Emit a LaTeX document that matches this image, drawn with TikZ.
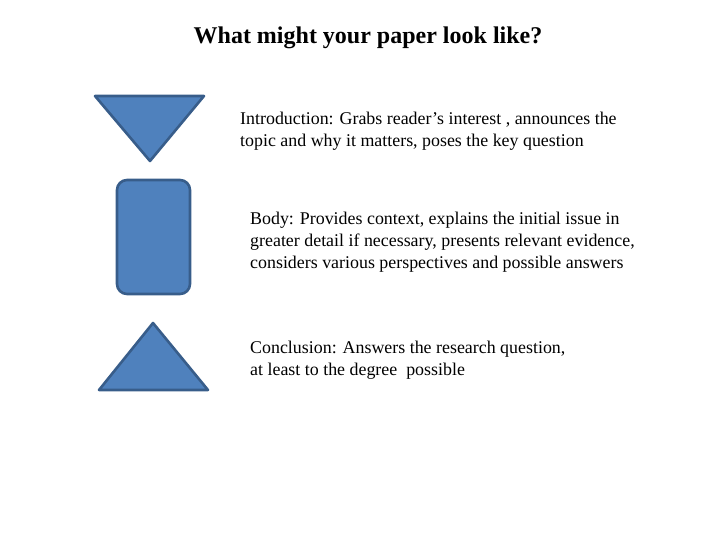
\documentclass[tikz,border=0pt]{standalone}
\usepackage{fontspec}
\setmainfont{Liberation Serif}
\begin{document}
\begin{tikzpicture}[x=1pt,y=-1pt,
  shp/.style={fill=shapefill,draw=shapeline,line width=2.6pt,line join=round},
  para/.style={anchor=west,align=left,inner sep=0pt,font=\fontsize{17.9}{22}\selectfont}]
\definecolor{shapefill}{HTML}{4F81BD}
\definecolor{shapeline}{HTML}{385D8A}
\useasboundingbox (0,0) rectangle (720,540);
\node[font=\bfseries\fontsize{24}{28}\selectfont] (title) at (368,38) {What might your paper look like?};
\draw[shp] (95,96) -- (204,96) -- (150,161) -- cycle;
\draw[shp,rounded corners=10pt] (117,180) rectangle (190,294);
\draw[shp] (153,323) -- (208,390) -- (99,390) -- cycle;
\node[para] (intro) at (240,131) {Introduction: Grabs reader’s interest , announces the\\topic and why it matters, poses the key question};
\node[para] (body) at (250,242) {Body: Provides context, explains the initial issue in\\greater detail if necessary, presents relevant evidence,\\considers various perspectives and possible answers};
\node[para] (concl) at (250,360) {Conclusion: Answers the research question,\\at least to the degree\ \ possible};
\end{tikzpicture}
\end{document}
